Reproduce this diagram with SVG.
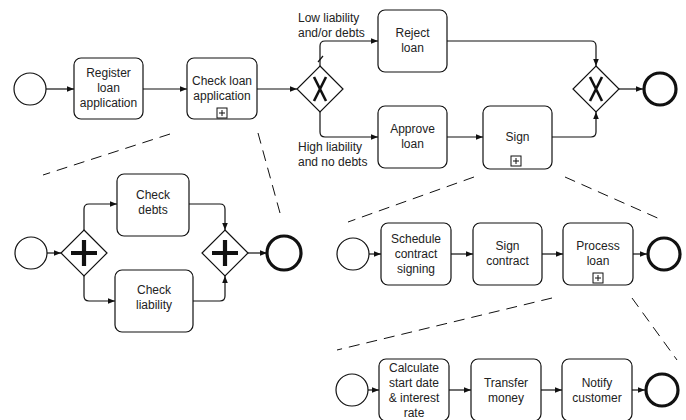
<svg xmlns="http://www.w3.org/2000/svg" width="686" height="420" viewBox="0 0 686 420">
  <defs>
    <marker id="arrow" viewBox="0 0 10 10" refX="10" refY="5" markerWidth="7" markerHeight="7" markerUnits="userSpaceOnUse" orient="auto">
      <path d="M0,1 L10,5 L0,9 Z" fill="#111"/>
    </marker>
    <style>
      .task { fill: #fff; stroke: #111; stroke-width: 1.2; }
      .start { fill: #fff; stroke: #111; stroke-width: 1.2; }
      .end { fill: #fff; stroke: #111; stroke-width: 3.2; }
      .gw { fill: #fff; stroke: #111; stroke-width: 1.2; }
      .xmark { fill: none; stroke: #111; stroke-width: 2.6; stroke-linecap: butt; }
      .plus { fill: none; stroke: #111; stroke-width: 4.2; }
      .sub { fill: #fff; stroke: #111; stroke-width: 1; }
      .subplus { stroke: #111; stroke-width: 1; }
      .flow { fill: none; stroke: #111; stroke-width: 1.2; marker-end: url(#arrow); }
      .plain { fill: none; stroke: #111; stroke-width: 1.2; }
      .dash { fill: none; stroke: #111; stroke-width: 1; stroke-dasharray: 11 7; }
      text { font-family: "Liberation Sans", Arial, sans-serif; font-size: 12px; fill: #222; text-anchor: middle; }
      text.lbl { text-anchor: start; }
    </style>
  </defs>

  <!-- dashed expansion guides -->
  <g id="guides">
    <path class="dash" d="M170,134 L43,175"/>
    <path class="dash" d="M258,133 L280,213"/>
    <path class="dash" d="M474,177 L348,222"/>
    <path class="dash" d="M565,177 L662,220"/>
    <path class="dash" d="M552,298 L337,350"/>
    <path class="dash" d="M632,298 L677,360"/>
  </g>

  <!-- sequence flows -->
  <g id="connectors">
    <!-- main process -->
    <path class="flow" d="M46,89 H74"/>
    <path class="flow" d="M143,89 H187"/>
    <path class="flow" d="M257,89 H297"/>
    <path class="flow" d="M320,66 V46 Q320,41 325,41 H378"/>
    <path class="plain" d="M318,62 L323,56"/>
    <path class="flow" d="M320,112 V132 Q320,137 325,137 H378"/>
    <path class="flow" d="M447,137 H483"/>
    <path class="flow" d="M447,41 H591 Q596,41 596,46 V66"/>
    <path class="flow" d="M552,137 H591 Q596,137 596,132 V112"/>
    <path class="flow" d="M619,89 H643"/>
    <!-- check loan application -->
    <path class="flow" d="M47,253 H61"/>
    <path class="flow" d="M84,230 V209 Q84,204 89,204 H117"/>
    <path class="flow" d="M84,276 V296 Q84,301 89,301 H115"/>
    <path class="flow" d="M189,204 H220 Q225,204 225,209 V230"/>
    <path class="flow" d="M193,301 H220 Q225,301 225,296 V276"/>
    <path class="flow" d="M248,253 H267"/>
    <!-- sign -->
    <path class="flow" d="M369,254 H381"/>
    <path class="flow" d="M451,254 H473"/>
    <path class="flow" d="M542,254 H563"/>
    <path class="flow" d="M633,254 H647"/>
    <!-- process loan -->
    <path class="flow" d="M368,390 H379"/>
    <path class="flow" d="M449,390 H471"/>
    <path class="flow" d="M541,390 H562"/>
    <path class="flow" d="M632,390 H645"/>
  </g>

  <!-- main process -->
  <g id="start-main"><circle class="start" cx="30" cy="89" r="16"/></g>
  <g id="register">
    <rect class="task" x="74" y="58" width="69" height="61" rx="7"/>
    <text x="108.5" y="77">Register</text>
    <text x="108.5" y="92">loan</text>
    <text x="108.5" y="107">application</text>
  </g>
  <g id="check-loan">
    <rect class="task" x="187" y="58" width="70" height="61" rx="7"/>
    <text x="222" y="85">Check loan</text>
    <text x="222" y="100">application</text>
    <rect class="sub" x="217" y="108" width="10" height="10"/>
    <path class="subplus" d="M222,110 V116 M219,113 H225"/>
  </g>
  <g id="split">
    <path class="gw" d="M320,66 L343,89 L320,112 L297,89 Z"/>
    <path class="xmark" d="M314,77 L326,101 M326,77 L314,101"/>
  </g>
  <g id="label-low">
    <text class="lbl" x="298" y="22">Low liability</text>
    <text class="lbl" x="298" y="37">and/or debts</text>
  </g>
  <g id="label-high">
    <text class="lbl" x="298" y="151">High liability</text>
    <text class="lbl" x="298" y="166">and no debts</text>
  </g>
  <g id="reject">
    <rect class="task" x="378" y="10" width="69" height="62" rx="7"/>
    <text x="412.5" y="37">Reject</text>
    <text x="412.5" y="52">loan</text>
  </g>
  <g id="approve">
    <rect class="task" x="378" y="106" width="69" height="62" rx="7"/>
    <text x="412.5" y="133">Approve</text>
    <text x="412.5" y="148">loan</text>
  </g>
  <g id="sign">
    <rect class="task" x="483" y="106" width="69" height="63" rx="7"/>
    <text x="517.5" y="141">Sign</text>
    <rect class="sub" x="511" y="156" width="10" height="10"/>
    <path class="subplus" d="M516,158 V164 M513,161 H519"/>
  </g>
  <g id="merge">
    <path class="gw" d="M596,66 L619,89 L596,112 L573,89 Z"/>
    <path class="xmark" d="M590,77 L602,101 M602,77 L590,101"/>
  </g>
  <g id="end-main"><circle class="end" cx="660" cy="89" r="16"/></g>

  <!-- check loan application, expanded -->
  <g id="start-check"><circle class="start" cx="31" cy="253" r="16"/></g>
  <g id="fork">
    <path class="gw" d="M84,230 L107,253 L84,276 L61,253 Z"/>
    <path class="plus" d="M84,240 V266 M71,253 H97"/>
  </g>
  <g id="check-debts">
    <rect class="task" x="117" y="174" width="72" height="62" rx="7"/>
    <text x="153" y="199">Check</text>
    <text x="153" y="214">debts</text>
  </g>
  <g id="check-liability">
    <rect class="task" x="115" y="270" width="78" height="62" rx="7"/>
    <text x="154" y="294">Check</text>
    <text x="154" y="309">liability</text>
  </g>
  <g id="join">
    <path class="gw" d="M225,230 L248,253 L225,276 L202,253 Z"/>
    <path class="plus" d="M225,240 V266 M212,253 H238"/>
  </g>
  <g id="end-check"><circle class="end" cx="284" cy="253" r="17"/></g>

  <!-- sign, expanded -->
  <g id="start-sign"><circle class="start" cx="353" cy="254" r="16"/></g>
  <g id="schedule">
    <rect class="task" x="381" y="223" width="70" height="62" rx="7"/>
    <text x="416" y="243">Schedule</text>
    <text x="416" y="258">contract</text>
    <text x="416" y="273">signing</text>
  </g>
  <g id="sign-contract">
    <rect class="task" x="473" y="223" width="69" height="62" rx="7"/>
    <text x="507.5" y="250">Sign</text>
    <text x="507.5" y="265">contract</text>
  </g>
  <g id="process-loan">
    <rect class="task" x="563" y="223" width="70" height="62" rx="7"/>
    <text x="598" y="250">Process</text>
    <text x="598" y="265">loan</text>
    <rect class="sub" x="593" y="273" width="10" height="10"/>
    <path class="subplus" d="M598,275 V281 M595,278 H601"/>
  </g>
  <g id="end-sign"><circle class="end" cx="664" cy="254" r="16"/></g>

  <!-- process loan, expanded -->
  <g id="start-process"><circle class="start" cx="352" cy="390" r="16"/></g>
  <g id="calculate">
    <rect class="task" x="379" y="359" width="70" height="62" rx="7"/>
    <text x="414" y="372">Calculate</text>
    <text x="414" y="387">start date</text>
    <text x="414" y="402">&amp; interest</text>
    <text x="414" y="417">rate</text>
  </g>
  <g id="transfer">
    <rect class="task" x="471" y="359" width="70" height="62" rx="7"/>
    <text x="506" y="387">Transfer</text>
    <text x="506" y="402">money</text>
  </g>
  <g id="notify">
    <rect class="task" x="562" y="359" width="70" height="62" rx="7"/>
    <text x="597" y="387">Notify</text>
    <text x="597" y="402">customer</text>
  </g>
  <g id="end-process"><circle class="end" cx="662" cy="390" r="16"/></g>
</svg>
